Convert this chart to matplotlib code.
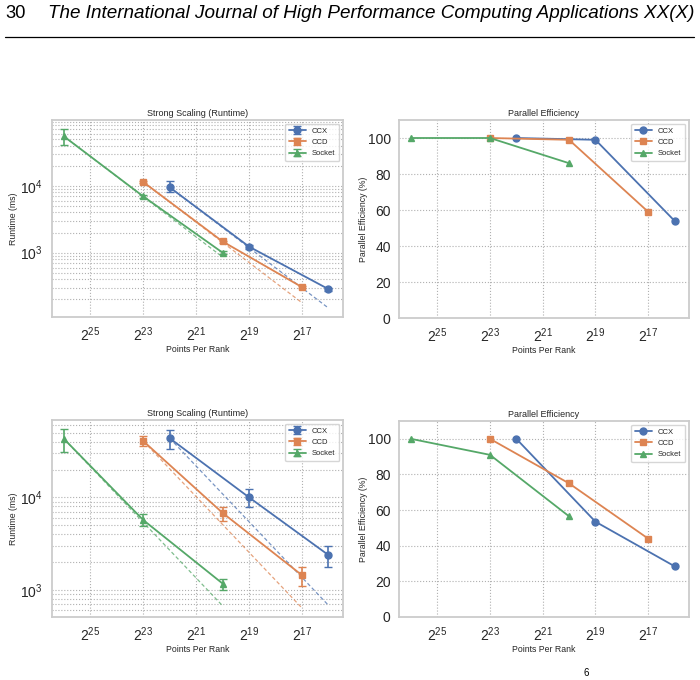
import matplotlib
matplotlib.use("Agg")
import matplotlib.pyplot as plt
from matplotlib.lines import Line2D
import numpy as np
import seaborn as sns

sns.set_theme(style="whitegrid")
plt.rcParams['font.family'] = ['Liberation Sans', 'DejaVu Sans']
plt.rcParams['mathtext.fontset'] = 'custom'
plt.rcParams['mathtext.rm'] = 'Liberation Sans'
plt.rcParams['mathtext.it'] = 'Liberation Sans:italic'
plt.rcParams['mathtext.bf'] = 'Liberation Sans:bold'
plt.rcParams['mathtext.default'] = 'regular'

# ---------------- data ----------------
series = ["CCX", "CCD", "Socket"]
colors = ["#4c72b0", "#dd8452", "#55a868"]
markers = ["o", "s", "^"]

# points per rank (x)
ppr_ccx = [2**22, 2**19, 2**16]
ppr_ccd = [2**23, 2**20, 2**17]
ppr_socket = [2**26, 2**23, 2**20]

# top row: runtime (ms), mean and error extents (low, high)
top_rt_ccx = [9500, 1230, 285]
top_lo_ccx = [8100, 1150, 270]
top_hi_ccx = [11800, 1310, 300]
top_rt_ccd = [11400, 1470, 305]
top_lo_ccd = [11000, 1420, 295]
top_hi_ccd = [11800, 1520, 315]
top_rt_socket = [55000, 6950, 1000]
top_lo_socket = [41000, 6500, 950]
top_hi_socket = [71000, 7400, 1050]

top_eff_ccx = [100, 99, 54]
top_eff_ccd = [100, 99, 59]
top_eff_socket = [100, 100, 86]

# bottom row
bot_rt_ccx = [43600, 10000, 2380]
bot_lo_ccx = [33400, 7800, 1775]
bot_hi_ccx = [53400, 12300, 2950]
bot_rt_ccd = [40700, 6790, 1440]
bot_lo_ccd = [35700, 5560, 1100]
bot_hi_ccd = [46600, 7900, 1750]
bot_rt_socket = [43000, 5690, 1170]
bot_lo_socket = [31000, 4900, 1000]
bot_hi_socket = [55000, 6600, 1320]

bot_eff_ccx = [100, 53.5, 28.5]
bot_eff_ccd = [100, 75, 44]
bot_eff_socket = [100, 91, 56.5]

xtick_exps = [25, 23, 21, 19, 17]

# ---------------- figure ----------------
W, H = 700, 680
fig = plt.figure(figsize=(7, 6.8), dpi=100)

def ax_at(l, t, r, b):
    return fig.add_axes([l / W, 1 - b / H, (r - l) / W, (b - t) / H])

ax_tl = ax_at(52, 120, 343, 317)
ax_tr = ax_at(399, 120, 689, 318)
ax_bl = ax_at(52, 420, 343, 617)
ax_br = ax_at(399, 421, 689, 617)

SPINE = "#cccccc"
TICK_FS = 10
LABEL_FS = 6.3
TITLE_FS = 6.5
LEG_FS = 5.5

def style_axes(ax, title, ylabel, ypad, ylpad):
    ax.set_xscale("log", base=2)
    ax.set_xticks([2.0**e for e in xtick_exps])
    ax.set_xticklabels([r"$2^{%d}$" % e for e in xtick_exps])
    ax.xaxis.set_minor_locator(matplotlib.ticker.NullLocator())
    ax.set_xlim(2.0**26.45, 2.0**15.45)
    ax.set_title(title, fontsize=TITLE_FS, pad=3)
    ax.set_xlabel("Points Per Rank", fontsize=LABEL_FS, labelpad=1)
    ax.set_ylabel(ylabel, fontsize=LABEL_FS, labelpad=ylpad)
    ax.tick_params(axis="x", labelsize=TICK_FS, length=0, pad=6)
    ax.tick_params(axis="y", labelsize=TICK_FS, length=0, pad=ypad)
    for s in ax.spines.values():
        s.set_color(SPINE)
        s.set_linewidth(1.3)
    ax.set_facecolor("white")

def runtime_plot(ax, xs, rts, los, his):
    ax.set_yscale("log")
    ymin, ymax = np.inf, -np.inf
    for i, name in enumerate(series):
        x = np.array(xs[i], dtype=float)
        y = np.array(rts[i], dtype=float)
        lo = np.array(los[i], dtype=float)
        hi = np.array(his[i], dtype=float)
        yerr = np.vstack([y - lo, hi - y])
        ax.errorbar(x, y, yerr=yerr, color=colors[i], marker=markers[i],
                    markersize=5, linewidth=1.3, capsize=3, elinewidth=1.2,
                    capthick=1.0, label=name, zorder=3)
        ideal = y[0] * x / x[0]
        ax.plot(x, ideal, linestyle="--", color=colors[i], linewidth=0.9,
                alpha=0.75, dashes=(3, 2), zorder=2)
        ymin = min(ymin, ideal.min(), lo.min())
        ymax = max(ymax, hi.max())
    lmin, lmax = np.log10(ymin), np.log10(ymax)
    m = 0.05 * (lmax - lmin)
    ax.set_ylim(10 ** (lmin - m), 10 ** (lmax + m))
    ax.grid(True, which="both", axis="y", linestyle=":", color="#b0b0b0",
            linewidth=0.8)
    ax.grid(True, which="major", axis="x", linestyle=":", color="#b0b0b0",
            linewidth=0.8)
    ax.yaxis.set_minor_formatter(matplotlib.ticker.NullFormatter())
    style_axes(ax, "Strong Scaling (Runtime)", "Runtime (ms)", 7, 1)
    ax.tick_params(axis="y", which="minor", length=0)
    leg = ax.legend(loc="upper right", fontsize=LEG_FS, frameon=True,
                    borderpad=0.5, handlelength=2.2, labelspacing=0.5)
    leg.get_frame().set_edgecolor(SPINE)

def eff_plot(ax, xs, effs):
    for i, name in enumerate(series):
        ax.plot(xs[i], effs[i], color=colors[i], marker=markers[i],
                markersize=5, linewidth=1.3, label=name, zorder=3)
    ax.set_ylim(0, 110)
    ax.set_yticks([0, 20, 40, 60, 80, 100])
    ax.grid(True, which="major", linestyle=":", color="#b0b0b0", linewidth=0.8)
    style_axes(ax, "Parallel Efficiency", "Parallel Efficiency (%)", 6, 0)
    leg = ax.legend(loc="upper right", fontsize=LEG_FS, frameon=True,
                    borderpad=0.5, handlelength=2.2, labelspacing=0.5)
    leg.get_frame().set_edgecolor(SPINE)

xs = [ppr_ccx, ppr_ccd, ppr_socket]
runtime_plot(ax_tl, xs,
             [top_rt_ccx, top_rt_ccd, top_rt_socket],
             [top_lo_ccx, top_lo_ccd, top_lo_socket],
             [top_hi_ccx, top_hi_ccd, top_hi_socket])
eff_plot(ax_tr, xs, [top_eff_ccx, top_eff_ccd, top_eff_socket])
runtime_plot(ax_bl, xs,
             [bot_rt_ccx, bot_rt_ccd, bot_rt_socket],
             [bot_lo_ccx, bot_lo_ccd, bot_lo_socket],
             [bot_hi_ccx, bot_hi_ccd, bot_hi_socket])
eff_plot(ax_br, xs, [bot_eff_ccx, bot_eff_ccd, bot_eff_socket])

# ---------------- page header ----------------
fig.text(5 / W, 1 - 13 / H, "30", fontsize=13.2, va="center", ha="left",
         color="black")
fig.text(48 / W, 1 - 13 / H,
         "The International Journal of High Performance Computing Applications XX(X)",
         fontsize=13.6, style="italic", va="center", ha="left", color="black")
fig.add_artist(Line2D([5 / W, 694 / W], [1 - 37 / H, 1 - 37 / H],
                      color="black", linewidth=0.9, transform=fig.transFigure))
fig.text(583 / W, 1 - 668 / H, "6", fontsize=7, va="top", ha="left",
         color="black")

fig.savefig("out.png", dpi=100, facecolor="white")
